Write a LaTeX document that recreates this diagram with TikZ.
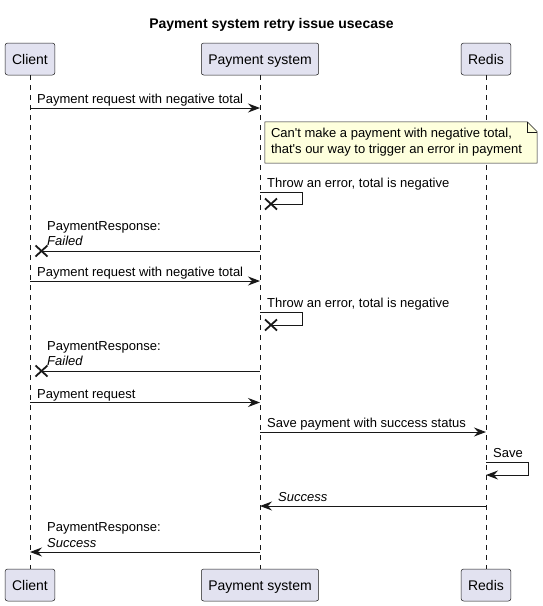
\documentclass[tikz,border=0pt]{standalone}
\usepackage{fontspec}
\setmainfont{Liberation Sans}
\usetikzlibrary{arrows.meta, positioning, calc}
\definecolor{partfill}{HTML}{E2E2F0}
\definecolor{ink}{HTML}{181818}
\definecolor{notefill}{HTML}{FEFFDD}

\begin{document}
\begin{tikzpicture}[x=1pt, y=-1pt, >={Stealth[length=12pt,width=9pt,inset=4pt]},
    part/.style={draw=ink, fill=partfill, rounded corners=2.5pt, line width=0.5pt, minimum height=32pt, inner xsep=7pt, text height=13pt, text depth=2pt, font=\fontsize{14}{16}\selectfont},
    life/.style={draw=ink, line width=0.5pt, dash pattern=on 5pt off 5pt},
    msg/.style={->, draw=ink, line width=1pt},
    loop/.style={draw=ink, line width=1pt},
    lbl/.style={anchor=base west, inner sep=0pt, font=\fontsize{13}{15}\selectfont},
    lbltwo/.style={anchor=south west, inner sep=0pt, align=left, font=\fontsize{13}{15.5}\selectfont},
    lost/.style={draw=ink, line width=1.8pt}]
    \useasboundingbox (0,0) rectangle (543,606);

    \node[font=\bfseries\fontsize{14}{16}\selectfont] (title) at (271.5,25) {Payment system retry issue usecase};

    % participants
    \node[part] (cltop) at (30,59) {Client};
    \node[part] (paytop) at (260,59) {Payment system};
    \node[part] (redtop) at (486,59) {Redis};
    \node[part] (clbot) at (30,585) {Client};
    \node[part] (paybot) at (260,585) {Payment system};
    \node[part] (redbot) at (486,585) {Redis};

    \draw[life] (cltop.south) -- (clbot.north);
    \draw[life] (paytop.south) -- (paybot.north);
    \draw[life] (redtop.south) -- (redbot.north);

    % first try
    \draw[msg] (cltop |- 0,108) -- (paytop |- 0,108);
    \node[lbl] (req1) at (37,103.5) {Payment request with negative total};

    \node[minimum width=272pt, minimum height=41pt, inner sep=0pt] (note) at (401,142.5) {};
    \draw[draw=ink, fill=notefill, line width=0.5pt] (note.north west) -- ($(note.north east)+(-10,0)$) -- ($(note.north east)+(0,10)$) -- (note.south east) -- (note.south west) -- cycle;
    \draw[draw=ink, line width=0.5pt] ($(note.north east)+(-10,0)$) -- ($(note.north east)+(-10,10)$) -- ($(note.north east)+(0,10)$);
    \node[lbltwo, anchor=north west] (notetxt) at ($(note.north west)+(6,6.5)$) {Can\textquotesingle t make a payment with negative total,\\that\textquotesingle s our way to trigger an error in payment};

    \draw[loop] (paytop |- 0,192) -- (302,192) -- (302,204) -- (271,204);
    \draw[lost] (265,198.5) -- (277,209.5) (265,209.5) -- (277,198.5);
    \node[lbl] (err1) at (267,187.5) {Throw an error, total is negative};

    \draw[loop] (paytop |- 0,251) -- (41.5,251);
    \draw[lost] (35.5,245.5) -- (47.5,256.5) (35.5,256.5) -- (47.5,245.5);
    \node[lbltwo] (resp1) at (47,246) {PaymentResponse:\\\itshape Failed};

    % second try
    \draw[msg] (cltop |- 0,281) -- (paytop |- 0,281);
    \node[lbl] (req2) at (37,276.5) {Payment request with negative total};

    \draw[loop] (paytop |- 0,312) -- (302,312) -- (302,325) -- (271,325);
    \draw[lost] (265,319.5) -- (277,330.5) (265,330.5) -- (277,319.5);
    \node[lbl] (err2) at (267,307.5) {Throw an error, total is negative};

    \draw[loop] (paytop |- 0,371) -- (41.5,371);
    \draw[lost] (35.5,365.5) -- (47.5,376.5) (35.5,376.5) -- (47.5,365.5);
    \node[lbltwo] (resp2) at (47,366) {PaymentResponse:\\\itshape Failed};

    % successful try
    \draw[msg] (cltop |- 0,402.5) -- (paytop |- 0,402.5);
    \node[lbl] (req3) at (37,398) {Payment request};

    \draw[msg] (paytop |- 0,432) -- (redtop |- 0,432);
    \node[lbl] (savepay) at (267,427.5) {Save payment with success status};

    \draw[loop, ->] (redtop |- 0,462) -- (528,462) -- (528,475) -- (redtop |- 0,475);
    \node[lbl] (save) at (493,457.5) {Save};

    \draw[msg] (redtop |- 0,506) -- (paytop |- 0,506);
    \node[lbl, font=\fontsize{13}{15}\selectfont\itshape] (ok) at (278,501.5) {Success};

    \draw[msg] (paytop |- 0,552) -- (cltop |- 0,552);
    \node[lbltwo] (resp3) at (47,547.5) {PaymentResponse:\\\itshape Success};
\end{tikzpicture}
\end{document}
